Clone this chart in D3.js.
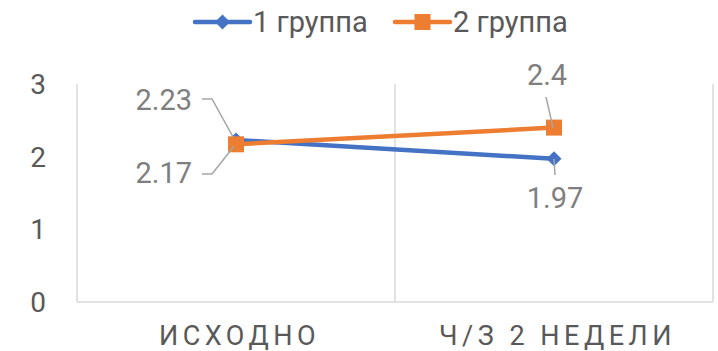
<!DOCTYPE html>
<html><head><meta charset="utf-8">
<script src="https://cdn.jsdelivr.net/npm/d3@7"></script>
<style>body{margin:0;background:#fff}svg{display:block}text{font-family:Roboto,"Open Sans",sans-serif}</style>
</head><body><svg id="c" width="718" height="351"></svg>
<script>
const categories = ["ИСХОДНО", "Ч/З 2 НЕДЕЛИ"];
const seriesNames = ["1 группа", "2 группа"];
const group1 = [2.23, 1.97];
const group2 = [2.17, 2.4];
const yTicks = [0, 1, 2, 3];

const colors = ["#4472C4", "#ED7D31"];
const svg = d3.select("#c");
const x = d3.scaleBand().domain(categories).range([77, 713]);
const y = d3.scaleLinear().domain([0, 3]).range([302, 84]);
const cx = c => x(c) + x.bandwidth() / 2;

// vertical gridlines at category boundaries
const bounds = categories.map(c => x(c)).concat([x.range()[1]]);
svg.selectAll("line.vg").data(bounds).join("line")
  .attr("x1", d => d).attr("x2", d => d).attr("y1", y(3)).attr("y2", y(0))
  .attr("stroke", "#d9d9d9").attr("stroke-width", 1.5);
svg.append("line").attr("x1", 77).attr("x2", 713).attr("y1", y(0)).attr("y2", y(0))
  .attr("stroke", "#d9d9d9").attr("stroke-width", 1.5);

// y tick labels
svg.selectAll("text.yt").data(yTicks).join("text")
  .attr("x", 46).attr("y", d => y(d)).attr("dy", "0.36em").attr("text-anchor", "end")
  .attr("fill", "#595959").attr("font-size", 28).text(d => d);

// category labels
svg.selectAll("text.xt").data(categories).join("text")
  .attr("x", d => cx(d) + 3.5).attr("y", 345).attr("text-anchor", "middle")
  .attr("fill", "#595959").attr("font-size", 27).attr("letter-spacing", "4.5px").text(d => d);

const line = d3.line().x((d, i) => cx(categories[i])).y(d => y(d));
const series = [group1, group2];
series.forEach((s, k) => {
  svg.append("path").attr("d", line(s)).attr("fill", "none")
    .attr("stroke", colors[k]).attr("stroke-width", 4.5).attr("stroke-linecap", "round");
});
// markers
const diamond = (px, py, r) => `M${px},${py - r}L${px + r},${py}L${px},${py + r}L${px - r},${py}Z`;
group1.forEach((v, i) => svg.append("path").attr("d", diamond(cx(categories[i]), y(v), 7.5)).attr("fill", colors[0]));
group2.forEach((v, i) => svg.append("rect").attr("x", cx(categories[i]) - 8).attr("y", y(v) - 8)
  .attr("width", 16).attr("height", 16).attr("fill", colors[1]));

// data labels with leader lines
const labels = [
  {v: group1[0], tx: 192, ty: 100, anchor: "end", lead: [[202, 99], [212, 99], [233, y(group1[0]) - 3]]},
  {v: group2[0], tx: 192, ty: 173, anchor: "end", lead: [[202, 174], [212, 174], [234, y(group2[0]) + 2]]},
  {v: group2[1], tx: 547, ty: 75, anchor: "middle", lead: [[546, 97], [553, y(group2[1])]]},
  {v: group1[1], tx: 555, ty: 198, anchor: "middle", lead: [[554, y(group1[1])], [555, 175]]}
];
labels.forEach(l => {
  svg.append("path").attr("d", d3.line()(l.lead)).attr("fill", "none")
    .attr("stroke", "#a6a6a6").attr("stroke-width", 1.5);
  svg.append("text").attr("x", l.tx).attr("y", l.ty).attr("dy", "0.36em").attr("text-anchor", l.anchor)
    .attr("fill", "#7f7f7f").attr("font-size", 29).text(l.v);
});

// legend
const leg = [{x: 195, t: seriesNames[0]}, {x: 395, t: seriesNames[1]}];
leg.forEach((g, k) => {
  svg.append("line").attr("x1", g.x).attr("x2", g.x + 55).attr("y1", 22).attr("y2", 22)
    .attr("stroke", colors[k]).attr("stroke-width", 4.5).attr("stroke-linecap", "round");
  if (k === 0) svg.append("path").attr("d", diamond(g.x + 27.5, 22, 7.5)).attr("fill", colors[0]);
  else svg.append("rect").attr("x", g.x + 19.5).attr("y", 14).attr("width", 16).attr("height", 16).attr("fill", colors[1]);
  svg.append("text").attr("x", g.x + 58).attr("y", 22).attr("dy", "0.36em")
    .attr("fill", "#595959").attr("font-size", 29).text(g.t);
});
</script></body></html>
